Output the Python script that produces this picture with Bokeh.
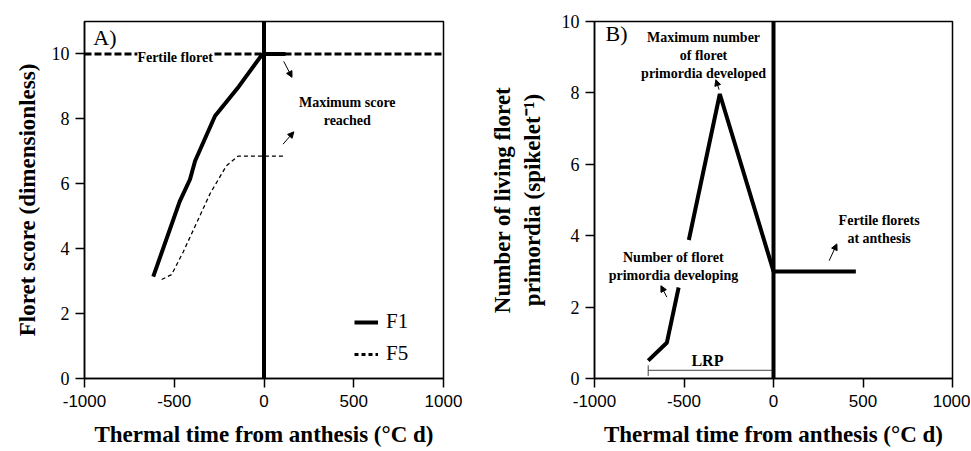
from bokeh.plotting import figure
from bokeh.layouts import row
from bokeh.models import (Label, Arrow, NormalHead, FixedTicker, Legend, LegendItem,
                          Range1d, Span)
from bokeh.embed import file_html
from bokeh.resources import INLINE

# ---------------- data ----------------
# Panel A: floret score
f1_x = [-617, -470, -412, -384, -273, -140, -15, 0, 120]
f1_y = [3.14, 5.45, 6.14, 6.7, 8.09, 9.0, 9.95, 10.0, 10.0]
f5_x = [-570, -515, -450, -300, -210, -145, 110]
f5_y = [3.05, 3.2, 3.9, 5.7, 6.55, 6.85, 6.85]
fertile_score = 10

# Panel B: living floret primordia
dev_x = [-700, -596, -530]
dev_y = [0.5, 1.0, 2.55]
liv_x = [-473, -300, -7, 0, 460]
liv_y = [3.88, 7.97, 3.12, 3.0, 3.0]
lrp_x = [-700, 0]
lrp_y = [0.23, 0.23]
lrp_tick_y = [0.07, 0.37]

x_ticks = [-1000, -500, 0, 500, 1000]
x_tick_labels = ["-1000", "-500", "0", "500", "1000"]
y_ticks = [0, 2, 4, 6, 8, 10]

SERIF = "Liberation Serif"
SANS = "Liberation Sans"
XLABEL = "Thermal time from anthesis (°C d)"


def style(p, ylabel, ystandoff):
    p.xaxis.ticker = FixedTicker(ticks=x_ticks)
    p.xaxis.major_label_overrides = {t: l for t, l in zip(x_ticks, x_tick_labels)}
    p.yaxis.ticker = FixedTicker(ticks=y_ticks)
    for ax in (p.xaxis[0], p.yaxis[0]):
        ax.axis_line_color = "black"
        ax.axis_line_width = 1.5
        ax.major_tick_line_color = "black"
        ax.major_tick_line_width = 1.5
        ax.major_tick_out = 9
        ax.major_tick_in = 0
        ax.minor_tick_line_color = None
        ax.major_label_text_color = "black"
        ax.axis_label_text_font = SERIF
        ax.axis_label_text_font_size = "23px"
        ax.axis_label_text_font_style = "bold"
        ax.axis_label_text_color = "black"
    p.xaxis.major_label_text_font = SANS
    p.xaxis.major_label_text_font_size = "17px"
    p.yaxis.major_label_text_font = SERIF
    p.yaxis.major_label_text_font_size = "18px"
    p.xaxis.major_label_standoff = 7
    p.yaxis.major_label_standoff = 6
    p.xaxis.axis_label_standoff = 12
    p.yaxis.axis_label_standoff = ystandoff
    p.xaxis.axis_label = XLABEL
    p.yaxis.axis_label = ylabel
    p.grid.visible = False
    p.outline_line_color = "black"
    p.outline_line_width = 1.5
    p.outline_line_alpha = 1.0
    p.background_fill_color = "white"
    p.border_fill_color = "white"


def note(p, x, y, text, size="14px", bold=True, bg=None):
    lab = Label(x=x, y=y, text=text, text_align="center", text_baseline="middle",
                text_font=SERIF, text_font_size=size,
                text_font_style="bold" if bold else "normal", text_color="black")
    if bg:
        lab.background_fill_color = bg
    p.add_layout(lab)


def arrow(p, xs, ys, xe, ye):
    p.add_layout(Arrow(x_start=xs, y_start=ys, x_end=xe, y_end=ye, line_width=1,
                       line_color="black",
                       end=NormalHead(size=6, fill_color="black", line_color="black",
                                      line_width=1)))


# ---------------- Panel A ----------------
pA = figure(width=480, height=450, output_backend="svg", toolbar_location=None,
            x_range=Range1d(-1000, 1000), y_range=Range1d(0, 11),
            min_border_left=84, min_border_right=37, min_border_top=21,
            min_border_bottom=72)
style(pA, "Floret score (dimensionless)", 9)

pA.add_layout(Span(location=fertile_score, dimension="width", line_color="black",
                   line_width=3, line_dash="7 3"))
pA.add_layout(Span(location=0, dimension="height", line_color="black", line_width=4))
r1 = pA.line(f1_x, f1_y, line_color="black", line_width=4)
pA.line(f5_x, f5_y, line_color="black", line_width=1.3, line_dash="4 3")
# legend-only swatch for F5 (thicker dashes, as in the key)
r5 = pA.line([float("nan")], [float("nan")], line_color="black", line_width=3,
             line_dash="4 3")

note(pA, -495, 9.9, "Fertile floret", size="14px", bg="white")
note(pA, 464, 8.24, "Maximum score\nreached", size="14px")
note(pA, -886, 10.5, "A)", size="22px", bold=False)
arrow(pA, 110, 9.77, 156, 9.28)
arrow(pA, 106, 7.22, 166, 7.6)

legA = Legend(items=[LegendItem(label="F1", renderers=[r1]),
                     LegendItem(label="F5", renderers=[r5])],
              location=(270, 12), border_line_alpha=0, background_fill_alpha=0,
              label_text_font=SERIF, label_text_font_size="21px",
              label_text_color="black",
              glyph_width=24, glyph_height=20, label_height=20, spacing=7,
              padding=0, margin=0, label_standoff=8)
pA.add_layout(legA, "center")

# ---------------- Panel B ----------------
pB = figure(width=490, height=450, output_backend="svg", toolbar_location=None,
            x_range=Range1d(-1000, 1000), y_range=Range1d(0, 10),
            min_border_left=114, min_border_right=18, min_border_top=21,
            min_border_bottom=72)
style(pB, "Number of living floret\nprimordia (spikelet\u207b\u00b9)", 14)

pB.add_layout(Span(location=0, dimension="height", line_color="black", line_width=4))
pB.line(dev_x, dev_y, line_color="black", line_width=4)
pB.line(liv_x, liv_y, line_color="black", line_width=4)
pB.line(lrp_x, lrp_y, line_color="#444444", line_width=1)
pB.line([lrp_x[0], lrp_x[0]], lrp_tick_y, line_color="#444444", line_width=1)

note(pB, -877, 9.66, "B)", size="22px", bold=False)
note(pB, -391, 9.04, "Maximum number\nof floret\nprimordia developed", size="14px")
note(pB, -559, 3.15, "Number of floret\nprimordia developing", size="14px")
note(pB, 590, 4.18, "Fertile florets\nat anthesis", size="14px")
note(pB, -369, 0.51, "LRP", size="16px")
arrow(pB, -304, 8.09, -322, 8.37)
arrow(pB, -596, 2.28, -629, 2.60)
arrow(pB, 311, 3.30, 354, 3.77)

layout = row(pA, pB)
open("out.html", "w").write(file_html(layout, INLINE))
